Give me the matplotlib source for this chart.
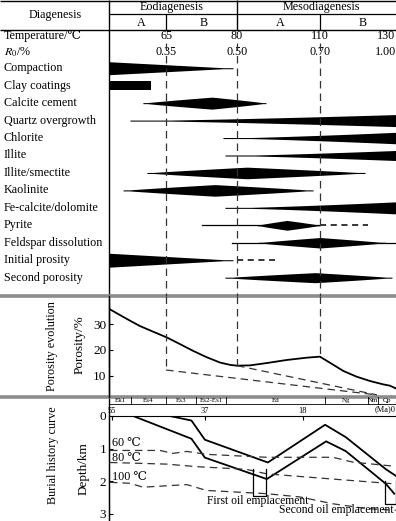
import numpy as np
import matplotlib
matplotlib.use("Agg")
import matplotlib.pyplot as plt
from matplotlib.transforms import blended_transform_factory

plt.rcParams['font.family'] = ['Liberation Serif', 'DejaVu Serif']
plt.rcParams['mathtext.fontset'] = 'stix'

W, H = 396, 521   # Bildgroesse in Pixel

# --- Diagenese-Tabelle (x = relative Position entlang der Abfolge, 0-100) ---
stage_bounds = [19.9, 44.6, 73.5]
temp_labels = ['65', '80', '110', '130']
ro_labels = ['0.35', '0.50', '0.70', '1.00']
scale_pos = [19.9, 44.6, 73.5, 96.5]

events = ['Compaction', 'Clay coatings', 'Calcite cement', 'Quartz overgrowth',
          'Chlorite', 'Illite', 'Illite/smectite', 'Kaolinite',
          'Fe-calcite/dolomite', 'Pyrite', 'Feldspar dissolution',
          'Initial prosity', 'Second porosity']
ev_kind = ['wedge', 'bar', 'lens', 'wedge', 'wedge', 'wedge', 'lens', 'lens',
           'wedge', 'lens', 'lens', 'wedge', 'lens']
ev_start = [0.0, 0.0, 11.8, 7.3, 39.7, 40.4, 13.2, 4.9, 40.4, 51.6, 51.9, 0.0, 40.4]
ev_peak = [0.0, 0.0, 35.9, 100.0, 100.0, 100.0, 48.1, 36.9, 100.0, 62.0, 73.5, 0.0, 71.8]
ev_end = [43.2, 14.6, 54.7, 100.0, 100.0, 100.0, 89.2, 71.1, 100.0, 73.5, 96.2, 43.2, 98.6]
ev_int = [0.93, 0.64, 0.86, 0.86, 0.82, 0.72, 0.83, 0.83, 0.86, 0.70, 0.75, 1.0, 0.72]
# duenne Linie (Beginn/Ende) und gestrichelte Fortsetzung
tail_start = [None] * 9 + [32.4, 42.9, None, None]
tail_end = [None] * 9 + [73.5, 100.0, None, None]
dash_from = [None] * 9 + [73.5, None, 44.6, None]
dash_to = [None] * 9 + [90.2, None, 57.8, None]

# --- Porositaetsentwicklung ---
por_x = [0.35, 3.8, 7.3, 10.8, 15.4, 20.1, 24.7, 29.4, 34.0, 38.7, 42.2, 44.5,
         49.1, 54.9, 61.9, 68.9, 73.5, 78.2, 81.7, 86.3, 91.0, 95.6, 97.9, 100.0]
por_y = [35.8, 33.6, 31.4, 29.3, 27.1, 24.9, 22.3, 19.6, 17.2, 15.1, 14.2, 13.9,
         14.0, 14.9, 16.1, 17.0, 17.4, 14.2, 11.8, 9.6, 7.9, 6.6, 6.1, 5.0]
loss_lower_x = [19.9, 93.4]
loss_lower_y = [12.2, 2.5]
loss_upper_x = [44.6, 93.4]
loss_upper_y = [13.9, 2.5]

# --- Versenkungsgeschichte ---
age_upper = [43.8, 39.6, 37.0, 24.8, 13.7, 9.7, 1.9, 0.0]
depth_upper = [0.0, 0.14, 0.73, 1.43, 0.27, 0.65, 1.64, 1.84]
age_lower = [50.9, 39.6, 37.0, 25.0, 13.5, 9.7, 1.9, 0.3]
depth_lower = [0.0, 0.70, 1.28, 1.94, 0.78, 1.08, 2.09, 2.39]

iso_labels = ['60 ℃', '80 ℃', '100 ℃']
iso_label_depth = [0.82, 1.30, 1.88]
iso_age = [
    [55.4, 45.7, 43.2, 40.5, 36.6, 25.0, 12.2, 8.3, 0.0],
    [55.4, 44.4, 38.5, 29.0, 25.0, 12.2, 0.0],
    [55.4, 51.5, 49.0, 40.5, 36.7, 25.0, 18.6, 12.2, 5.6, 0.0],
]
iso_depth = [
    [1.06, 1.06, 1.15, 1.09, 1.18, 1.27, 1.27, 1.42, 1.55],
    [1.43, 1.48, 1.56, 1.64, 1.78, 1.94, 2.09],
    [2.04, 2.07, 2.19, 2.11, 2.29, 2.39, 2.49, 2.70, 2.85, 2.90],
]

strat_names = ['Ek1', 'Es4', 'Es3', 'Es2-Es1', 'Ed', 'Ng', 'Nm', 'Qp']
strat_bounds = [55.58, 51.3, 44.5, 38.7, 32.9, 13.7, 5.4, 3.4, -0.04]
age_ticks = [55, 37, 18]

oil1_age = [27.7, 25.2]
oil1_depth = [1.64, 2.45]
oil2_age = [2.1, 0.0]
oil2_depth = [2.0, 2.7]


def px_rect(x0, y0, x1, y1):
    return [x0 / W, 1 - y1 / H, (x1 - x0) / W, (y1 - y0) / H]


fig = plt.figure(figsize=(W / 100, H / 100), dpi=100)

# Grundachse in Pixeln fuer Rahmen und Beschriftung
ax = fig.add_axes([0, 0, 1, 1])
ax.set_xlim(0, W)
ax.set_ylim(H, 0)
ax.axis('off')

ax_d = fig.add_axes(px_rect(109, 30, 396, 296))
ax_d.set_xlim(0, 100)
ax_d.set_ylim(13.05, -2.19)
ax_d.axis('off')
ax_d.patch.set_alpha(0)

ax_p = fig.add_axes(px_rect(109, 296, 396, 397))
ax_p.set_xlim(0, 100)
ax_p.set_ylim(1.7, 41.0)
ax_p.patch.set_alpha(0)

ax_b = fig.add_axes(px_rect(109, 416, 396, 521))
ax_b.set_xlim(55.58, -0.04)
ax_b.set_ylim(3.23, 0)
ax_b.patch.set_alpha(0)

dash = (0, (6, 4))
dcol = '#333333'

# Rahmen
ax.vlines(109, 0, H, color='k', lw=1)
ax.hlines(0.5, 0, W, color='k', lw=1)
ax.hlines(30, 0, W, color='k', lw=1)
ax.hlines(14, 109, W, color='k', lw=0.9)
ax.vlines(237, 0, 30, color='k', lw=1)
ax.vlines([166, 320], 14, 30, color='k', lw=0.9)
ax.hlines([296, 397], 0, W, color='#8c8c8c', lw=2.6)

fs = 8.7
ax.text(55, 15, 'Diagenesis', ha='center', va='center', fontsize=fs)
ax.text(172, 7, 'Eodiagenesis', ha='center', va='center', fontsize=fs)
ax.text(321, 7, 'Mesodiagenesis', ha='center', va='center', fontsize=fs)
for xp, s in zip([141.7, 204, 280, 363], ['A', 'B', 'A', 'B']):
    ax.text(xp, 22.5, s, ha='center', va='center', fontsize=fs)

ax.text(4, 36, 'Temperature/℃', ha='left', va='center', fontsize=fs)
ax.text(4, 52, '$R_0$/%', ha='left', va='center', fontsize=fs)
tx = blended_transform_factory(ax_d.transData, ax.transData)
for xp, t, r in zip(scale_pos, temp_labels, ro_labels):
    ax.text(xp, 36, t, transform=tx, ha='center', va='center', fontsize=fs)
    ax.text(xp, 52, r, transform=tx, ha='center', va='center', fontsize=fs)

# Diagenese-Ereignisse
row_tr = blended_transform_factory(ax.transData, ax_d.transData)
half_max = 0.4
for i, name in enumerate(events):
    ax.text(4, i, name, transform=row_tr, ha='left', va='center', fontsize=fs)
    x0, xp, x1 = ev_start[i], ev_peak[i], ev_end[i]
    xs = np.linspace(x0, x1, 300)
    if ev_kind[i] == 'bar':
        t = np.ones_like(xs)
        p = 1.0
    else:
        sl = max(xp - x0, 1e-6)
        sr = max(x1 - xp, 1e-6)
        t = np.where(xs < xp, (xs - x0) / sl, 1 - (xs - xp) / sr)
        t = np.clip(t, 0, 1)
        if ev_kind[i] == 'lens':
            p = 0.9
        elif xp > x0:
            p = 1.3
        else:
            p = 1.0
    hh = half_max * ev_int[i] * t ** p
    hh = np.maximum(hh, 0.03)
    ax_d.fill_between(xs, i - hh, i + hh, color='k', lw=0)
    if tail_start[i] is not None:
        ax_d.plot([tail_start[i], tail_end[i]], [i, i], color='k', lw=0.9)
    if dash_from[i] is not None:
        ax_d.plot([dash_from[i], dash_to[i]], [i, i], color='k', lw=1.1,
                  linestyle=(0, (4, 3)))

ax_d.vlines(stage_bounds, -1.45, 13.05, color=dcol, lw=0.9, linestyle=dash)

# Porositaet
ax_p.plot(por_x, por_y, color='k', lw=1.3)
ax_p.plot(loss_lower_x, loss_lower_y, color=dcol, lw=0.9, linestyle=dash)
ax_p.plot(loss_upper_x, loss_upper_y, color=dcol, lw=0.9, linestyle=dash)
v_bottom = [loss_lower_y[0], loss_upper_y[0], float(np.interp(stage_bounds[2], por_x, por_y))]
for xb, yb in zip(stage_bounds, v_bottom):
    ax_p.plot([xb, xb], [41.0, yb], color=dcol, lw=0.9, linestyle=dash)
for s in ['top', 'right', 'bottom']:
    ax_p.spines[s].set_visible(False)
ax_p.spines['left'].set_linewidth(1)
ax_p.set_xticks([])
ax_p.set_yticks([10, 20, 30])
ax_p.tick_params(axis='y', direction='in', length=3, labelsize=9.5, pad=2)
ax_p.set_ylabel('Porosity/%', fontsize=9.5)
ax_p.yaxis.set_label_coords(-0.08, 0.52)
ax.text(52, 346, 'Porosity evolution', rotation=90, ha='center', va='center', fontsize=fs)

# Versenkungskurven
ax_b.plot(age_upper, depth_upper, color='k', lw=1.3)
ax_b.plot(age_lower, depth_lower, color='k', lw=1.3)
for a, d, lab, ld in zip(iso_age, iso_depth, iso_labels, iso_label_depth):
    ax_b.plot(a, d, color=dcol, lw=0.9, linestyle=dash)
    ax_b.text(55.0, ld, lab, ha='left', va='center', fontsize=fs)

for ages, deps in [(oil1_age, oil1_depth), (oil2_age, oil2_depth)]:
    ax_b.plot([ages[0], ages[0], ages[1], ages[1]],
              [deps[0], deps[1], deps[1], deps[0]], color='k', lw=0.9, clip_on=False)
ax_b.text(np.mean(oil1_age) + 0.3, 2.6, 'First oil emplacement', ha='center',
          va='center', fontsize=8.4)
ax_b.text(0.5, 2.9, 'Second oil emplacement', ha='right', va='center', fontsize=8.4)

# Stratigraphie-Band
band_top, band_bot = -0.585, -0.36
ax_b.plot([strat_bounds[0], strat_bounds[-1]], [band_bot, band_bot], color='k',
          lw=0.6, clip_on=False)
for b in strat_bounds[1:-1]:
    ax_b.plot([b, b], [band_top, band_bot], color='k', lw=0.6, clip_on=False)
for n, a0, a1 in zip(strat_names, strat_bounds[:-1], strat_bounds[1:]):
    ax_b.text((a0 + a1) / 2, (band_top + band_bot) / 2, n, ha='center', va='center',
              fontsize=5, clip_on=False)

ax_b.xaxis.tick_top()
ax_b.set_xticks(age_ticks)
ax_b.set_xticklabels([str(a) for a in age_ticks])
ax_b.tick_params(axis='x', direction='in', length=3, labelsize=6, pad=1)
ax_b.text(0.0, -0.08, '(Ma)0', ha='right', va='bottom', fontsize=6)
ax_b.set_yticks([0, 1, 2, 3])
ax_b.tick_params(axis='y', direction='in', length=3, labelsize=9.5, pad=2)
for s in ['right', 'bottom']:
    ax_b.spines[s].set_visible(False)
ax_b.spines['top'].set_linewidth(0.8)
ax_b.set_ylabel('Depth/km', fontsize=9.5)
ax_b.yaxis.set_label_coords(-0.066, 0.5)
ax.text(53, 455, 'Burial history curve', rotation=90, ha='center', va='center', fontsize=fs)

fig.savefig('out.png', dpi=100)
